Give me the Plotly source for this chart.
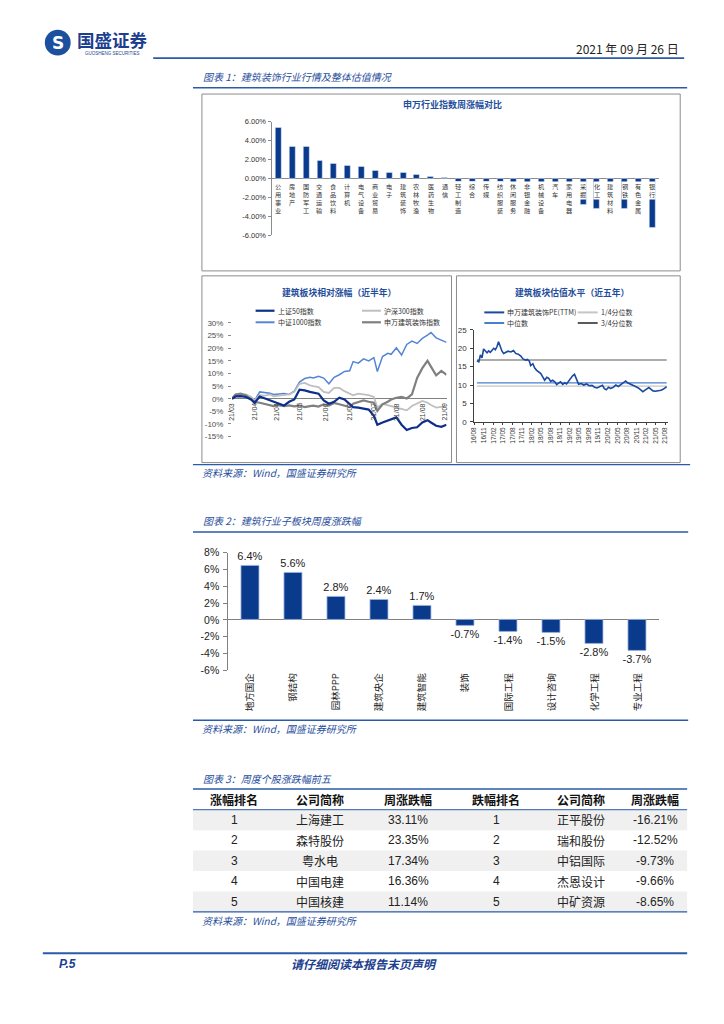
import plotly.graph_objects as go

# The page body has an 8px margin, so the figure is 16px smaller than the 724x1024 window;
# positions below are page pixels and are converted to paper fractions of the figure.
PAGE_OFF = 8
W, H = 724 - 2 * PAGE_OFF, 1024 - 2 * PAGE_OFF


def px(x):
    return (x - PAGE_OFF) / W


def py(y):
    return 1 - (y - PAGE_OFF) / H


BLUE_TXT = "#1f4e9c"
LINE_BLUE = "#2a5aa8"
NAVY = "#0a3a8c"
CJK = "Noto Sans CJK SC"
LAT = "Liberation Sans"

# ---------------- data ----------------
# Chart 1a: SW industry weekly change (%)
sw_industries = ["公用事业", "房地产", "国防军工", "交通运输", "食品饮料", "计算机", "电气设备",
                 "商业贸易", "电子", "建筑装饰", "农林牧渔", "医药生物", "通信", "轻工制造",
                 "综合", "传媒", "纺织服装", "休闲服务", "非银金融", "机械设备", "汽车",
                 "家用电器", "采掘", "化工", "建筑材料", "钢铁", "有色金属", "银行"]
sw_weekly_chg = [5.33, 3.40, 3.33, 1.82, 1.58, 1.37, 1.19, 0.77, 0.63, 0.60, 0.42, 0.21, 0.08,
                 -0.37, -0.38, -0.39, -0.40, -0.41, -0.42, -0.43, -0.44, -0.47, -2.78, -3.16,
                 -0.48, -3.16, -3.86, -5.19]
sw_ytick_vals = [-6, -4, -2, 0, 2, 4, 6]
sw_ytick_text = ["-6.00%", "-4.00%", "-2.00%", "0.00%", "2.00%", "4.00%", "6.00%"]

# Chart 1b: relative performance, last half year (trading-day index, %)
rel_day = [0, 2, 5, 8, 11, 13, 16, 19, 22, 24, 27, 30, 33, 36, 39, 42, 45, 47, 50, 53, 56, 59,
           62, 65, 68, 70, 73, 76, 79, 82, 84, 87, 90, 92, 95, 98, 101, 104, 107, 110, 113,
           115, 118, 121, 124]
sz50 = [0, 0.9, 1.0, 0.7, -0.3, -1.6, 0.9, 0.1, -0.7, -1.2, -2.0, -2.7, -1.2, -0.3, 3.6,
        3.3, 2.7, 2.3, 2.0, -0.7, -2.0, -1.2, 0.4, -0.3, -2.0, -3.3, -3.5, -3.8, -4.3, -6.8,
        -10.3, -9.4, -8.7, -8.1, -7.4, -10.3, -12.4, -11.6, -11.3, -9.4, -8.5, -9.4, -10.7,
        -11.1, -10.3]
hs300 = [0, 1.7, 1.4, 1.7, 0.7, -0.7, 1.4, 1.2, 1.7, 1.0, 1.2, 1.4, 1.7, 2.7, 5.9,
         6.3, 5.3, 5.0, 4.6, 2.7, 2.3, 4.3, 4.3, 3.0, 2.0, 1.4, 2.0, 1.7, 1.4, 0.7,
         -3.5, -2.0, -2.5, -2.9, -3.5, -3.8, -4.6, -2.9, -2.0, -0.9, -1.6, -2.5, -3.5,
         -3.3, -2.9]
csi1000 = [0, 1.4, 1.0, 1.4, 0.7, -0.7, 2.7, 2.5, 2.2, 1.7, 2.0, 2.1, 1.7, 3.0, 6.6,
           8.0, 8.5, 8.2, 8.9, 8.2, 5.9, 8.5, 9.5, 10.8, 11.1, 14.7, 14.1, 15.8, 15.0, 16.3,
           10.8, 16.7, 18.0, 17.6, 20.2, 17.3, 21.5, 22.8, 21.9, 23.9, 25.2, 26.2, 24.1,
           23.2, 22.3]
sw_build = [0, 1.7, 2.0, 1.4, -0.3, -1.2, -1.6, -2.2, -2.6, -2.9, -2.5, -2.9, -2.6, -3.0,
            -2.7, -3.3, -2.9, -2.7, -3.1, -2.2, -2.7, -1.7, -2.2, -2.9, -3.3, -2.0, -1.2,
            -0.7, -1.2, -1.6, -4.8, -2.2, -1.2, -0.3, 0.4, 0.7, 0.1, 1.7, 8.2, 12.1, 15.0,
            12.8, 9.3, 11.0, 9.5]
rel_tick_pos = [0, 13, 26, 39, 54, 68, 82, 95, 110, 123]
rel_tick_labels = ["21/03", "21/04", "21/04", "21/05", "21/06", "21/07", "21/07", "21/08",
                   "21/08", "21/09"]
rel_ytick_vals = [-15, -10, -5, 0, 5, 10, 15, 20, 25, 30]
rel_ytick_text = ["-15%", "-10%", "-5%", "0%", "5%", "10%", "15%", "20%", "25%", "30%"]
rel_names = ["上证50指数", "沪深300指数", "中证1000指数", "申万建筑装饰指数"]

# Chart 1c: PE(TTM), last five years (months since 2016/08)
pe_month = [0.8, 1.4, 1.9, 2.4, 2.9, 3.4, 4.0, 4.5, 5.0, 5.5, 6.1, 6.6, 7.1, 7.6, 8.1, 8.7,
            9.2, 9.9, 10.6, 11.5, 12.3, 13.0, 13.8, 14.6, 15.3, 16.1, 16.7, 17.3, 17.7, 18.4,
            19.0, 19.6, 20.3, 20.9, 21.5, 22.1, 22.8, 23.4, 24.0, 24.6, 25.3, 25.9, 26.5,
            27.1, 27.8, 28.4, 29.0, 29.6, 30.3, 30.9, 31.5, 32.2, 32.8, 33.6, 34.4, 35.3,
            36.1, 37.0, 37.8, 38.6, 39.5, 40.3, 40.9, 41.5, 42.2, 42.8, 43.6, 44.5, 45.3,
            46.1, 47.0, 47.6, 48.2, 49.1, 49.9, 50.7, 51.6, 52.4, 53.0, 53.7, 54.3, 54.9,
            55.5, 56.2, 57.0, 57.8, 58.7, 59.5, 60.1, 60.5]
pe_ttm = [16.6, 16.3, 18.2, 17.4, 19.8, 19.2, 18.8, 19.3, 18.9, 19.4, 20.0, 19.6, 20.4, 21.8,
          20.6, 19.2, 18.6, 18.9, 19.2, 19.0, 19.4, 18.6, 18.4, 17.9, 17.1, 16.8, 17.0, 16.5,
          15.3, 15.8, 14.6, 14.0, 13.5, 13.1, 12.2, 11.3, 12.1, 11.8, 11.0, 11.3, 10.9, 10.1,
          10.5, 10.9, 10.2, 10.6, 10.3, 11.0, 11.9, 12.5, 12.9, 11.4, 10.2, 10.4, 10.0, 10.3,
          9.8, 9.9, 9.4, 9.2, 9.5, 9.9, 9.0, 8.7, 9.4, 9.1, 9.3, 10.0, 9.6, 10.2, 10.7, 11.1,
          10.6, 10.3, 9.9, 9.6, 9.2, 8.6, 8.2, 8.6, 9.0, 9.3, 8.9, 8.4, 8.3, 8.4, 8.6, 8.9,
          9.4, 9.6]
pe_q25 = 9.7
pe_median = 10.6
pe_q75 = 16.8
pe_tick_pos = [0, 3, 6, 9, 12, 15, 18, 21, 24, 27, 30, 33, 36, 39, 42, 45, 48, 51, 54, 57, 60]
pe_tick_labels = ["16/08", "16/11", "17/02", "17/05", "17/08", "17/11", "18/02", "18/05",
                  "18/08", "18/11", "19/02", "19/05", "19/08", "19/11", "20/02", "20/05",
                  "20/08", "20/11", "21/02", "21/05", "21/08"]
pe_names = ["申万建筑装饰PE(TTM)", "1/4分位数", "中位数", "3/4分位数"]

# Chart 2: construction sub-sector weekly change (%)
sub_sectors = ["地方国企", "钢结构", "园林PPP", "建筑央企", "建筑智能", "装饰", "国际工程",
               "设计咨询", "化学工程", "专业工程"]
sub_chg = [6.4, 5.6, 2.8, 2.4, 1.7, -0.7, -1.4, -1.5, -2.8, -3.7]
sub_ytick_vals = [-6, -4, -2, 0, 2, 4, 6, 8]
sub_ytick_text = ["-6%", "-4%", "-2%", "0%", "2%", "4%", "6%", "8%"]

# Chart 3: top 5 gainers / losers
tbl_header = ["涨幅排名", "公司简称", "周涨跌幅", "跌幅排名", "公司简称", "周涨跌幅"]
rank = [1, 2, 3, 4, 5]
gainer_names = ["上海建工", "森特股份", "粤水电", "中国电建", "中国核建"]
gainer_chg = [33.11, 23.35, 17.34, 16.36, 11.14]
loser_names = ["正平股份", "瑞和股份", "中铝国际", "杰恩设计", "中矿资源"]
loser_chg = [-16.21, -12.52, -9.73, -9.66, -8.65]

# ---------------- figure ----------------
fig = go.Figure()

# 1a bars
fig.add_trace(go.Bar(x=list(range(len(sw_industries))), y=sw_weekly_chg, xaxis="x", yaxis="y",
                     marker=dict(color=NAVY), width=0.43, showlegend=False, hoverinfo="skip"))

# 1b lines
rel_styles = [("#0b2f8a", 2.2), ("#bfbfbf", 1.8), ("#5585d6", 1.5), ("#808080", 2.2)]
rel_series = [sz50, hs300, csi1000, sw_build]
for order in [2, 1, 3, 0]:
    c, w = rel_styles[order]
    fig.add_trace(go.Scatter(x=rel_day, y=rel_series[order], mode="lines", xaxis="x2", yaxis="y2",
                             line=dict(color=c, width=w), name=rel_names[order],
                             showlegend=False, hoverinfo="skip"))

# 1c PE
pe_line_styles = [("#c6c6c6", 1.3, pe_q25), ("#4a7fd0", 1.3, pe_median), ("#5a5a5a", 1.1, pe_q75)]
for (c, w, v), nm in zip(pe_line_styles, [pe_names[1], pe_names[2], pe_names[3]]):
    fig.add_trace(go.Scatter(x=[pe_month[0], pe_month[-1]], y=[v, v], mode="lines",
                             xaxis="x3", yaxis="y3", line=dict(color=c, width=w), name=nm,
                             showlegend=False, hoverinfo="skip"))
fig.add_trace(go.Scatter(x=pe_month, y=pe_ttm, mode="lines", xaxis="x3", yaxis="y3",
                         line=dict(color="#1a49a0", width=1.6), name=pe_names[0],
                         showlegend=False, hoverinfo="skip"))

# 2 bars
fig.add_trace(go.Bar(x=sub_sectors, y=sub_chg, xaxis="x4", yaxis="y4",
                     marker=dict(color=NAVY, line=dict(color="#9fb4dc", width=0.8)), width=0.42,
                     text=[f"{v:.1f}%" for v in sub_chg], textposition="outside",
                     constraintext="none",
                     textfont=dict(family=LAT, size=11, color="#222222"), cliponaxis=False,
                     showlegend=False, hoverinfo="skip"))

shapes = []
annotations = []


def hline(y, x0, x1, color, width=1):
    shapes.append(dict(type="line", xref="paper", yref="paper", x0=px(x0), x1=px(x1),
                       y0=py(y), y1=py(y), line=dict(color=color, width=width)))


def rect(x0, y0, x1, y1, line_color=None, fill=None, width=1, layer="below"):
    d = dict(type="rect", xref="paper", yref="paper", x0=px(x0), x1=px(x1), y0=py(y1), y1=py(y0),
             layer=layer)
    d["line"] = dict(color=line_color, width=width) if line_color else dict(width=0)
    if fill:
        d["fillcolor"] = fill
    shapes.append(d)


def txt(x, y, text, size, color="#222222", xanchor="left", yanchor="middle", family=CJK,
        weight="normal", style="normal", **kw):
    annotations.append(dict(x=px(x), y=py(y), xref="paper", yref="paper", text=text,
                            showarrow=False, xanchor=xanchor, yanchor=yanchor,
                            font=dict(size=size, color=color, family=family, weight=weight,
                                      style=style), **kw))


# ---- header ----
shapes.append(dict(type="circle", xref="paper", yref="paper", x0=px(41), x1=px(67),
                   y0=py(50), y1=py(24), fillcolor="#1d4f9f", line=dict(width=0)))
txt(54, 37, "S", 17, color="white", xanchor="center", family="DejaVu Sans", weight="bold")
txt(109, 34, "国盛证券", 17.5, color="#1d3f8f", xanchor="center", weight="bold")
txt(109, 47.5, "GUOSHENG SECURITIES", 4.5, color="#1d3f8f", xanchor="center", family=LAT)
txt(681, 42.5, "2021 年 09 月 26 日", 12, color="#222222", xanchor="right")
hline(52.7, 150, 684, LINE_BLUE, 1.6)

# ---- chart 1 frame ----
txt(198, 71.5, "图表 1：建筑装饰行业行情及整体估值情况", 10, color=BLUE_TXT, style="italic")
hline(82.7, 190, 687, LINE_BLUE, 1.4)
rect(199, 89, 680, 268, line_color="#8c8c8c")
rect(199, 273, 450, 462, line_color="#8c8c8c")
rect(455, 273, 680, 462, line_color="#8c8c8c")
hline(464, 190, 690, LINE_BLUE, 1.2)
txt(197, 472.5, "资料来源：Wind，国盛证券研究所", 10, color=BLUE_TXT, style="italic")

# 1a title + vertical labels
txt(451, 100, "申万行业指数周涨幅对比", 9, color=BLUE_TXT, xanchor="center", weight="bold")
for i, name in enumerate(sw_industries):
    annotations.append(dict(x=i, y=0, xref="x", yref="y", text="<br>".join(name),
                            showarrow=False, xanchor="center", yanchor="top", yshift=-3,
                            font=dict(size=6.2, color="#333333", family=CJK),
                            bgcolor="white", borderpad=0))

# 1b title, legend, date labels
txt(336.7, 290, "建筑板块相对涨幅（近半年）", 8.8, color=BLUE_TXT, xanchor="center", weight="bold")
leg_pos = [(253, 308.3), (360, 308.3), (253, 320), (360, 320)]
for (lx, ly), (c, w), nm in zip(leg_pos, rel_styles, rel_names):
    shapes.append(dict(type="line", xref="paper", yref="paper", x0=px(lx), x1=px(lx + 19),
                       y0=py(ly), y1=py(ly), line=dict(color=c, width=max(w, 2))))
    txt(lx + 20, ly, nm, 7, color="#333333")
for pos, lab in zip(rel_tick_pos, rel_tick_labels):
    annotations.append(dict(x=pos, y=0, xref="x2", yref="y2", text=lab, showarrow=False,
                            textangle=-90, xanchor="center", yanchor="top", yshift=-2,
                            font=dict(size=7, color="#404040", family=LAT)))

# 1c title, legend
txt(571, 290, "建筑板块估值水平（近五年）", 8.8, color=BLUE_TXT, xanchor="center", weight="bold")
pe_leg = [(483, 310, "#1a49a0", 2, pe_names[0]), (577, 310, "#c6c6c6", 2, pe_names[1]),
          (483, 320.7, "#4a7fd0", 2, pe_names[2]), (577, 320.7, "#5a5a5a", 2, pe_names[3])]
for lx, ly, c, w, nm in pe_leg:
    shapes.append(dict(type="line", xref="paper", yref="paper", x0=px(lx), x1=px(lx + 20),
                       y0=py(ly), y1=py(ly), line=dict(color=c, width=w)))
    txt(lx + 21, ly, nm, 7, color="#333333")

# ---- chart 2 ----
txt(198, 521, "图表 2：建筑行业子板块周度涨跌幅", 10, color=BLUE_TXT, style="italic")
hline(532.3, 190, 688, LINE_BLUE, 1.4)
hline(722.7, 190, 688, LINE_BLUE, 1.4)
txt(197, 731.5, "资料来源：Wind，国盛证券研究所", 10, color=BLUE_TXT, style="italic")

# ---- chart 3 table ----
txt(198, 781.5, "图表 3：周度个股涨跌幅前五", 10, color=BLUE_TXT, style="italic")
row_top = 813.3
row_h = 20.67
for r in range(5):
    if r % 2 == 0:
        rect(190, row_top + r * row_h, 687, row_top + (r + 1) * row_h, fill="#f0f0f0")
hline(792.3, 190, 687, LINE_BLUE, 1.4)
hline(813.3, 190, 687, LINE_BLUE, 1)
hline(916.7, 190, 687, LINE_BLUE, 1.4)
col_x = [231.7, 318, 406.7, 495, 580, 655]
for cx, h in zip(col_x, tbl_header):
    txt(cx, 802.8, h, 12, color="#111111", xanchor="center", weight="bold")
for r in range(5):
    cy = row_top + (r + 0.5) * row_h
    cells = [(str(rank[r]), LAT), (gainer_names[r], CJK), (f"{gainer_chg[r]:.2f}%", LAT),
             (str(rank[r]), LAT), (loser_names[r], CJK), (f"{loser_chg[r]:.2f}%", LAT)]
    for cx, (t, fam) in zip(col_x, cells):
        txt(cx, cy, t, 12, color="#222222", xanchor="center", family=fam)
txt(197, 925.5, "资料来源：Wind，国盛证券研究所", 10, color=BLUE_TXT, style="italic")

# ---- footer ----
hline(958.5, 39, 687, LINE_BLUE, 2)
txt(53, 969, "P.5", 12, color="#1d3f8f", family=LAT, weight="bold", style="italic")
txt(362, 969, "请仔细阅读本报告末页声明", 12, color="#1d3f8f", xanchor="center",
    weight="bold", style="italic")

axis_off = dict(showticklabels=False, showline=False, showgrid=False, zeroline=False, ticks="")

fig.update_layout(
    width=W, height=H, autosize=False,
    margin=dict(l=0, r=0, t=0, b=0),
    paper_bgcolor="white", plot_bgcolor="rgba(0,0,0,0)",
    font=dict(family=CJK, color="#222222"),
    showlegend=False,
    bargap=0,
    shapes=shapes, annotations=annotations,
    xaxis=dict(domain=[px(269), px(659)], range=[-0.5, 27.5], anchor="y", **axis_off),
    yaxis=dict(domain=[py(231.7), py(117)], range=[-6, 6], anchor="x",
               tickvals=sw_ytick_vals, ticktext=sw_ytick_text,
               showline=True, linecolor="#8c8c8c", linewidth=1, ticks="outside", ticklen=3,
               tickcolor="#8c8c8c", tickfont=dict(size=7.5, color="#333333", family=LAT),
               showgrid=False, zeroline=True, zerolinecolor="#8c8c8c", zerolinewidth=1),
    xaxis2=dict(domain=[px(229.3), px(445)], range=[0, 124], anchor="y2", **axis_off),
    yaxis2=dict(domain=[py(435.7), py(320.7)], range=[-15, 30], anchor="x2",
                tickvals=rel_ytick_vals, ticktext=rel_ytick_text, showline=False,
                ticks="outside", ticklen=3, tickcolor="#8c8c8c",
                tickfont=dict(size=8, color="#4d4d4d", family=LAT), ticklabelstandoff=3,
                showgrid=False, zeroline=True, zerolinecolor="#808080", zerolinewidth=1.2),
    xaxis3=dict(domain=[px(473), px(668)], range=[0, 61], anchor="y3",
                tickvals=pe_tick_pos, ticktext=pe_tick_labels, tickangle=-90,
                showline=True, linecolor="#404040", linewidth=1, ticks="outside", ticklen=2,
                tickcolor="#404040", tickfont=dict(size=6.5, color="#333333", family=LAT),
                showgrid=False, zeroline=False),
    yaxis3=dict(domain=[py(420.7), py(327.7)], range=[0, 25], anchor="x3",
                tickvals=[0, 5, 10, 15, 20, 25], showline=True, linecolor="#404040",
                linewidth=1, ticks="outside", ticklen=3, tickcolor="#404040",
                tickfont=dict(size=8, color="#333333", family=LAT), ticklabelstandoff=2,
                showgrid=False, zeroline=False),
    xaxis4=dict(domain=[px(225.6), px(659)], range=[-0.5, 9.5], anchor="y4", type="category",
                tickangle=-90, showline=False, ticks="", showgrid=False, zeroline=False,
                tickfont=dict(size=9.5, color="#222222", family=CJK)),
    yaxis4=dict(domain=[py(672.3), py(553.3)], range=[-6, 8], anchor="x4",
                tickvals=sub_ytick_vals, ticktext=sub_ytick_text,
                showline=True, linecolor="#808080", linewidth=1, ticks="outside", ticklen=4,
                tickcolor="#808080", tickfont=dict(size=10.5, color="#222222", family=LAT),
                ticklabelstandoff=2,
                showgrid=False, zeroline=True, zerolinecolor="#808080", zerolinewidth=1),
)

fig.write_html("out.html")
